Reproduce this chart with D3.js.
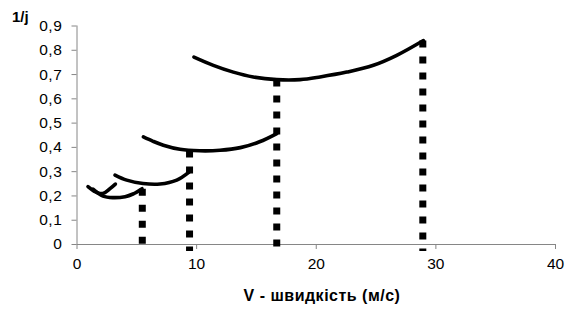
<!DOCTYPE html>
<html><head><meta charset="utf-8">
<script src="https://cdn.jsdelivr.net/npm/d3@7"></script>
<style>
html,body{margin:0;padding:0;background:#fff;}
svg text{font-family:Arial,"Liberation Sans",sans-serif;fill:#000;}
</style></head>
<body>
<svg id="chart" width="571" height="309"></svg>
<script>
// ---- data ----
const xTicks = [0, 10, 20, 30, 40];
const yTicks = [0, 0.1, 0.2, 0.3, 0.4, 0.5, 0.6, 0.7, 0.8, 0.9];
const xTitle = "V - швидкість (м/с)";
const yTitle = "1/j";

// 1/j versus V for each gear
const gear1V = [0.96, 1.46, 1.96, 2.38, 2.80, 3.25];
const gear1Y = [0.236, 0.218, 0.208, 0.212, 0.228, 0.247];
const gear2V = [1.38, 2.22, 3.05, 4.06, 4.72, 5.48];
const gear2Y = [0.226, 0.197, 0.191, 0.195, 0.206, 0.228];
const gear3V = [3.22, 4.20, 5.56, 6.98, 8.38, 9.41];
const gear3Y = [0.284, 0.263, 0.249, 0.247, 0.263, 0.296];
const gear4V = [5.59, 6.40, 7.26, 8.65, 10.3, 12.0, 13.7, 15.3, 16.74];
const gear4Y = [0.441, 0.423, 0.407, 0.390, 0.384, 0.386, 0.397, 0.421, 0.455];
const gear5V = [9.82, 11.44, 13.11, 14.78, 16.74, 18.69, 20.36, 22.59, 24.82, 26.77, 29.0];
const gear5Y = [0.770, 0.736, 0.708, 0.688, 0.677, 0.677, 0.688, 0.708, 0.736, 0.777, 0.838];

// shift points (dotted drops)
const shiftV = [5.5, 9.45, 16.74, 28.95];
const shiftTop = [0.228, 0.385, 0.678, 0.838];

// ---- chart ----
const svg = d3.select("#chart");
const x = d3.scaleLinear().domain([0, 40]).range([76.5, 555]);
const y = d3.scaleLinear().domain([0, 0.9]).range([244, 25.5]);
const axisColor = "#868686";

const fmtY = d => d === 0 ? "0" : d3.format(".1f")(d).replace(".", ",");

const gy = svg.append("g").attr("transform", `translate(${x(0)},0)`)
  .call(d3.axisLeft(y).tickValues(yTicks).tickSize(5).tickPadding(9).tickFormat(fmtY));
const gx = svg.append("g").attr("transform", `translate(0,${y(0)})`)
  .call(d3.axisBottom(x).tickValues(xTicks).tickSize(5).tickPadding(9).tickFormat(d3.format("d")));
[gx, gy].forEach(g => {
  g.selectAll("path, line").attr("stroke", axisColor).attr("stroke-width", 1);
  g.selectAll("text").attr("font-size", "15.5px").attr("fill", "#000");
});
gy.selectAll("text").attr("letter-spacing", "0.6px");
gx.select(".domain").attr("d", `M${x(0)},0.5H${x(40)}`);
gy.select(".domain").attr("d", `M0.5,${y(0.9)}V${y(0)}`);

// dotted drop lines
const drops = shiftV.map((v, i) => ({v, top: shiftTop[i]}));
svg.append("g").selectAll("line").data(drops).join("line")
  .attr("x1", d => x(d.v)).attr("x2", d => x(d.v))
  .attr("y1", d => y(d.top)).attr("y2", y(0) + 7)
  .attr("stroke", "#000").attr("stroke-width", 7)
  .attr("stroke-dasharray", "7,9");

// gear curves
const gears = [[gear1V, gear1Y], [gear2V, gear2Y], [gear3V, gear3Y], [gear4V, gear4Y], [gear5V, gear5Y]]
  .map(([vs, ys]) => vs.map((v, i) => [v, ys[i]]));
const line = d3.line().x(d => x(d[0])).y(d => y(d[1])).curve(d3.curveCatmullRom.alpha(0.5));
svg.append("g").selectAll("path").data(gears).join("path")
  .attr("d", line).attr("fill", "none").attr("stroke", "#000")
  .attr("stroke-width", 3.6).attr("stroke-linecap", "round");

// titles
svg.append("text").attr("x", 12).attr("y", 22).attr("font-size", "15px")
  .attr("font-weight", "bold").text(yTitle);
svg.append("text").attr("x", 322).attr("y", 301).attr("text-anchor", "middle")
  .attr("font-size", "16px").attr("letter-spacing", "0.5px")
  .attr("font-weight", "bold").text(xTitle);
</script>
</body></html>
